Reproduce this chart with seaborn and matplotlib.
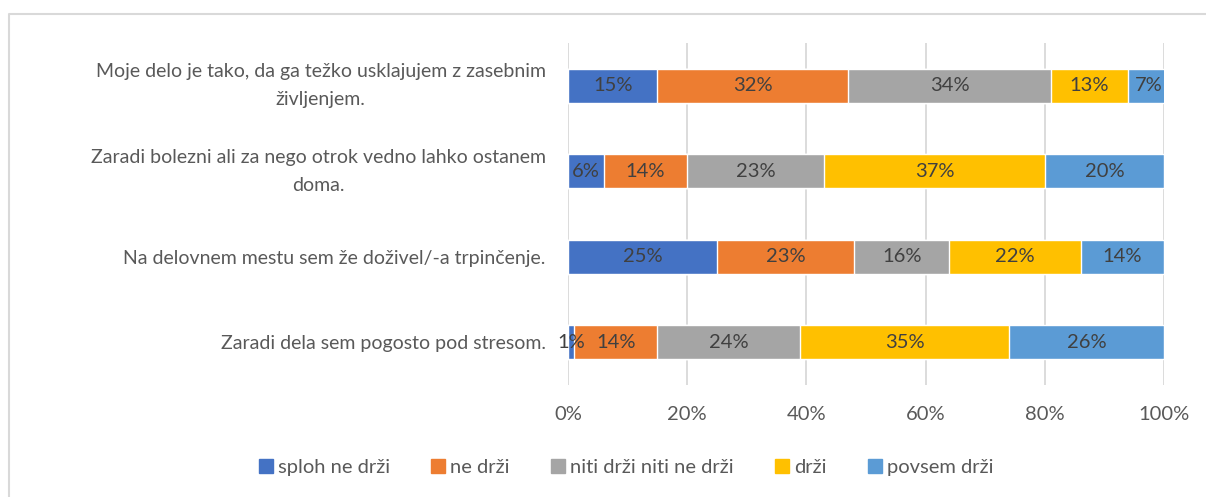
import numpy as np
import seaborn as sns
import matplotlib.pyplot as plt
from matplotlib.lines import Line2D

# Data
statements = [
    "Moje delo je tako, da ga težko usklajujem z zasebnim\nživljenjem.",
    "Zaradi bolezni ali za nego otrok vedno lahko ostanem\ndoma.",
    "Na delovnem mestu sem že doživel/-a trpinčenje.",
    "Zaradi dela sem pogosto pod stresom.",
]
answers = ["sploh ne drži", "ne drži", "niti drži niti ne drži", "drži", "povsem drži"]
sploh_ne_drzi = [15, 6, 25, 1]
ne_drzi = [32, 14, 23, 14]
niti_niti = [34, 23, 16, 24]
drzi = [13, 37, 22, 35]
povsem_drzi = [7, 20, 14, 26]

colors = ["#4472C4", "#ED7D31", "#A5A5A5", "#FFC000", "#5B9BD5"]
text_gray = "#595959"


def main():
    sns.set_theme(style="white")
    plt.rcParams['font.family'] = ['Lato', 'DejaVu Sans']

    values = np.array([sploh_ne_drzi, ne_drzi, niti_niti, drzi, povsem_drzi])
    cum = values.cumsum(axis=0)

    fig = plt.figure(figsize=(12.06, 4.97), dpi=100)
    ax = fig.add_axes([568 / 1206, 1 - 385 / 497, 596 / 1206, 342 / 497])

    # stacked bars: draw cumulative totals from the widest to the narrowest
    for i in range(len(answers) - 1, -1, -1):
        sns.barplot(x=cum[i], y=statements, color=colors[i], width=0.4,
                    saturation=1, orient="h", ax=ax, zorder=2)

    # segment labels
    for i in range(len(answers)):
        for j in range(len(statements)):
            start = cum[i][j] - values[i][j]
            ax.text(start + values[i][j] / 2, j, f"{values[i][j]}%",
                    ha="center", va="center", fontsize=14.5, color="#404040", zorder=3)

    ax.set_xlim(0, 100)
    ax.set_ylim(3.5, -0.5)
    ax.set_xticks(range(0, 101, 20))
    ax.set_xticklabels([f"{t}%" for t in range(0, 101, 20)])
    ax.xaxis.grid(True, color="#D9D9D9", linewidth=1.3, zorder=0)
    ax.set_axisbelow(True)
    for s in ax.spines.values():
        s.set_visible(False)
    ax.tick_params(axis="both", length=0, labelsize=14, labelcolor=text_gray)
    ax.tick_params(axis="x", pad=15, labelsize=14.5)
    ax.tick_params(axis="y", pad=16)
    for lbl in ax.get_yticklabels():
        lbl.set_multialignment("center")
        lbl.set_linespacing(1.8)
        if "\n" in lbl.get_text():
            lbl.set_verticalalignment("center")
    ax.set_xlabel("")
    ax.set_ylabel("")

    # legend
    handles = [Line2D([], [], marker="s", linestyle="", markersize=10.5,
                      markerfacecolor=c, markeredgecolor=c) for c in colors]
    fig.legend(handles, answers, loc="center", bbox_to_anchor=(0.518, 1 - 467 / 497),
               ncol=5, frameon=False, fontsize=14.5, labelcolor=text_gray,
               handletextpad=0.1, columnspacing=1.9, handlelength=1.0)

    # chart border
    fig.add_artist(Line2D([9 / 1206, 9 / 1206, 1.0], [0, 1 - 14 / 497, 1 - 14 / 497],
                          color="#D9D9D9", linewidth=1.5, transform=fig.transFigure))

    fig.savefig("out.png", dpi=100)


if __name__ == "__main__":
    main()
